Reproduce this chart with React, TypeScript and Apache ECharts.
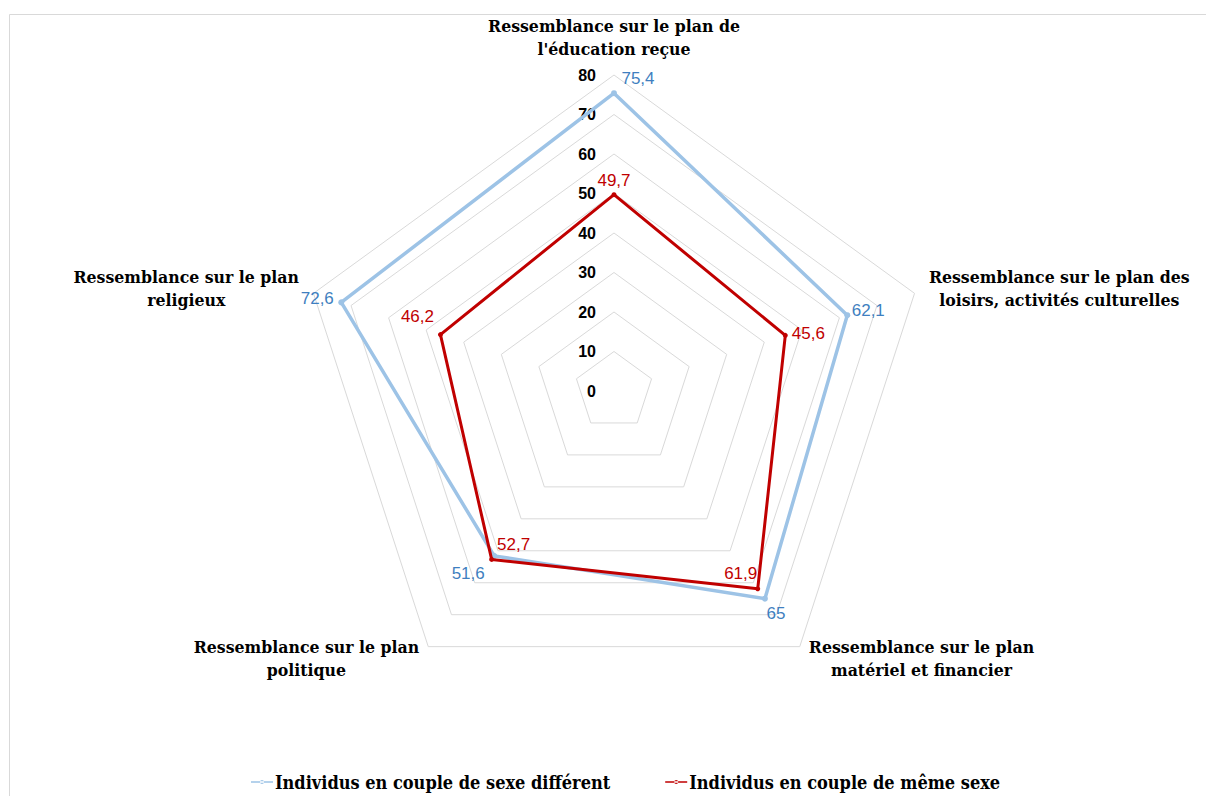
import React, { useEffect, useRef } from "react";
import * as echarts from "echarts";

// ECharts lays radar indicators counter-clockwise from the top
const indicators = [
  "Ressemblance sur le plan de\nl'éducation reçue",
  "Ressemblance sur le plan\nreligieux",
  "Ressemblance sur le plan\npolitique",
  "Ressemblance sur le plan\nmatériel et financier",
  "Ressemblance sur le plan des\nloisirs, activités culturelles",
];
const seriesNames = [
  "Individus en couple de sexe différent",
  "Individus en couple de même sexe",
];
// order: éducation, religieux, politique, matériel, loisirs
const diffSexValues = [75.4, 72.6, 51.6, 65, 62.1];
const sameSexValues = [49.7, 46.2, 52.7, 61.9, 45.6];
const axisMax = 80;
const axisStep = 10;

// label offsets (dx, dy) per vertex, in pixels
const diffOffsets = [
  [24, -15],
  [-24, -4],
  [-26, 18],
  [11, 15],
  [21, -5],
];
const sameOffsets = [
  [0, -14],
  [-23, -18],
  [22, -15],
  [-17, -15],
  [23, -2],
];
// side on which each indicator name sits relative to its vertex
const nameSide = [0, -1, -1, 1, 1];

const fmt = (v: number) => String(v).replace(".", ",");

const NAME_FONT = "'DejaVu Serif Condensed', 'DejaVu Serif', serif";
const NAME_SIZE = 17.5;
const LABEL_FONT = "'Liberation Sans', Arial, sans-serif";

function measure(text: string): number {
  const c = document.createElement("canvas").getContext("2d");
  if (!c) return text.length * 9;
  c.font = "bold " + NAME_SIZE + "px " + NAME_FONT;
  return Math.ceil(c.measureText(text).width);
}

function richFor(offsets: number[][], color: string) {
  const rich: Record<string, any> = {};
  offsets.forEach(([dx, dy], i) => {
    rich["p" + i] = {
      color,
      fontFamily: LABEL_FONT,
      fontSize: 17,
      padding: [
        dy > 0 ? 2 * dy : 0,
        dx < 0 ? -2 * dx : 0,
        dy < 0 ? -2 * dy : 0,
        dx > 0 ? 2 * dx : 0,
      ],
    };
  });
  return rich;
}

export default function App() {
  const ref = useRef<HTMLDivElement>(null);
  useEffect(() => {
    if (!ref.current) return;
    const chart = echarts.init(ref.current, null, { renderer: "svg" });
    const blue = "#9dc3e6";
    const blueText = "#3f7fc0";
    const red = "#c00000";

    const nameRich: Record<string, any> = {};
    indicators.forEach((n, i) => {
      const w = Math.max(...n.split("\n").map(measure));
      const side = nameSide[i];
      nameRich["n" + i] = {
        color: "#000",
        fontFamily: NAME_FONT,
        fontWeight: "bold",
        fontSize: NAME_SIZE,
        lineHeight: 23,
        padding: [0, side < 0 ? w : 0, 0, side > 0 ? w : 0],
      };
    });

    chart.setOption({
      animation: false,
      backgroundColor: "#ffffff",
      graphic: [
        {
          type: "rect",
          shape: { x: 9.5, y: 14.5, width: 1220, height: 820 },
          style: { fill: "none", stroke: "#d9d9d9", lineWidth: 1 },
          silent: true,
        },
      ],
      legend: {
        bottom: 0,
        left: 246,
        itemGap: 55,
        itemWidth: 22,
        itemHeight: 8,
        icon: "path://M0,3.2 L22,3.2 L22,4.8 L0,4.8 Z M9,4 A2,2 0 1,0 13,4 A2,2 0 1,0 9,4 Z",
        textStyle: {
          fontFamily: NAME_FONT,
          fontWeight: "bold",
          fontSize: 18,
          color: "#000",
          padding: [0, 0, 0, -3],
        },
        data: seriesNames,
      },
      radar: {
        center: [614, 391],
        radius: 316,
        startAngle: 90,
        splitNumber: axisMax / axisStep,
        shape: "polygon",
        nameGap: 15,
        axisName: {
          color: "#000",
          fontFamily: NAME_FONT,
          fontWeight: "bold",
          fontSize: NAME_SIZE,
          lineHeight: 23,
          align: "center",
          formatter: (name: string) => {
            const i = indicators.indexOf(name);
            return name
              .split("\n")
              .map((l) => "{n" + i + "|" + l + "}")
              .join("\n");
          },
          rich: nameRich,
        },
        splitLine: { lineStyle: { color: "#d9d9d9", width: 1 } },
        splitArea: { show: false },
        axisLine: { show: false },
        axisTick: { show: false },
        axisLabel: { show: false },
        indicator: indicators.map((name, i) => ({
          name,
          min: 0,
          max: axisMax,
          ...(i === 0
            ? {
                axisLabel: {
                  show: true,
                  color: "#000",
                  fontWeight: "bold",
                  fontSize: 16,
                  fontFamily: LABEL_FONT,
                  margin: 18,
                },
              }
            : {}),
        })),
      },
      series: [
        {
          type: "radar",
          name: seriesNames[0],
          z: 2,
          symbol: "circle",
          symbolSize: 6,
          lineStyle: { color: blue, width: 3.5 },
          itemStyle: { color: blue },
          label: {
            show: true,
            position: "inside",
            formatter: (p: any) => {
              const i = diffSexValues.indexOf(p.value);
              return "{p" + i + "|" + fmt(p.value) + "}";
            },
            rich: richFor(diffOffsets, blueText),
          },
          data: [{ value: diffSexValues, name: seriesNames[0] }],
        },
        {
          type: "radar",
          name: seriesNames[1],
          z: 3,
          symbol: "circle",
          symbolSize: 5,
          lineStyle: { color: red, width: 3 },
          itemStyle: { color: red },
          label: {
            show: true,
            position: "inside",
            formatter: (p: any) => {
              const i = sameSexValues.indexOf(p.value);
              return "{p" + i + "|" + fmt(p.value) + "}";
            },
            rich: richFor(sameOffsets, red),
          },
          data: [{ value: sameSexValues, name: seriesNames[1] }],
        },
      ],
    });
    return () => chart.dispose();
  }, []);
  return (
    <div
      ref={ref}
      style={{ position: "absolute", left: 0, top: 0, width: 1206, height: 796 }}
    />
  );
}
